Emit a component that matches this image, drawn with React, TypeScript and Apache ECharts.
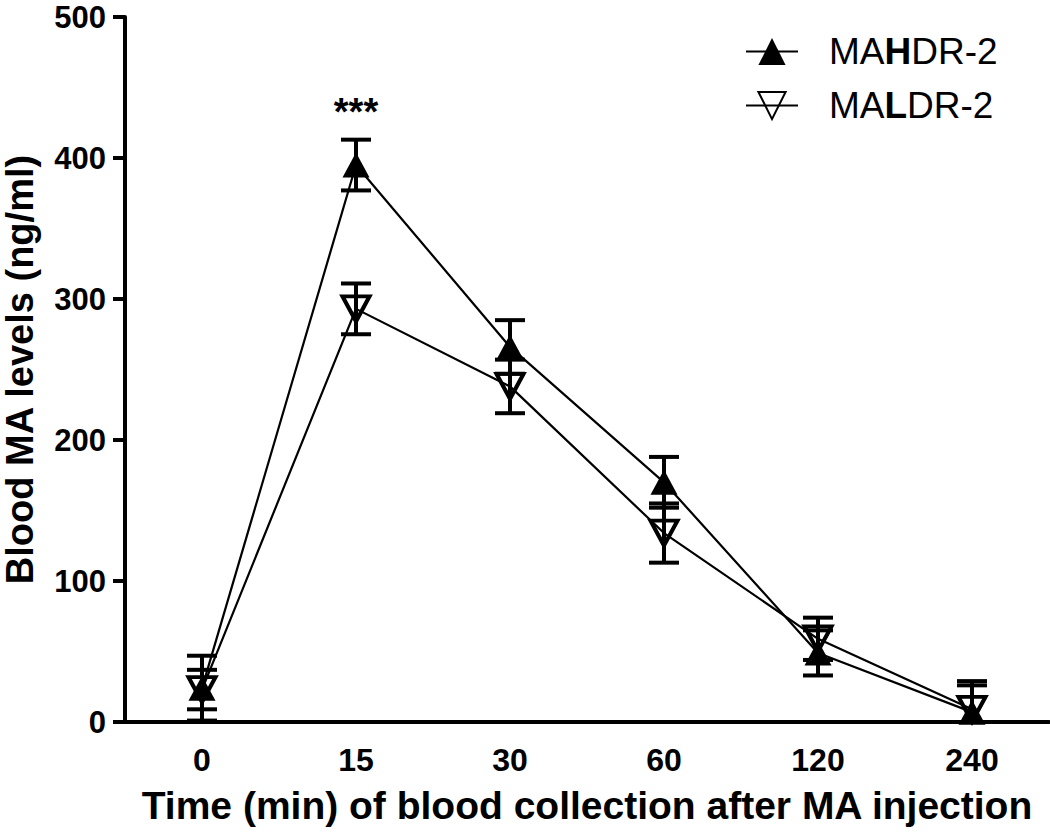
import React, { useEffect, useRef } from "react";
import * as echarts from "echarts";

const categories = ["0", "15", "30", "60", "120", "240"];
const hdrMean = [24, 395, 266, 170, 49, 7];
const hdrSem = [23, 18, 19, 18, 16, 22];
const ldrMean = [23, 293, 238, 134, 59, 9];
const ldrSem = [14, 18, 19, 21, 15, 17];
const yTicks = { min: 0, max: 500, interval: 100 };
const seriesNames = ["MAHDR-2", "MALDR-2"];
const sigLabel = "***";
const sigIndex = 1;

const FONT = "'Liberation Sans', Arial, Helvetica, sans-serif";

function errorRenderer(params: any, api: any) {
  const x = api.value(0);
  const mean = api.value(1);
  const err = api.value(2);
  const top = api.coord([x, mean + err]);
  const bot = api.coord([x, mean - err]);
  const hw = 15;
  const style = { stroke: "#000", lineWidth: 4, fill: "none" };
  return {
    type: "group",
    children: [
      { type: "line", shape: { x1: top[0], y1: top[1], x2: bot[0], y2: bot[1] }, style },
      { type: "line", shape: { x1: top[0] - hw, y1: top[1], x2: top[0] + hw, y2: top[1] }, style },
      { type: "line", shape: { x1: bot[0] - hw, y1: bot[1], x2: bot[0] + hw, y2: bot[1] }, style },
    ],
  };
}

export default function App() {
  const ref = useRef<HTMLDivElement>(null);
  useEffect(() => {
    if (!ref.current) return;
    const chart = echarts.init(ref.current, null, { renderer: "svg" });
    const legendFmt = (name: string) => {
      const letter = name === seriesNames[0] ? "H" : "L";
      const rest = name.slice(3);
      return `{sp| }{a|MA}{b|${letter}}{a|${rest}}`;
    };
    chart.setOption({
      animation: false,
      backgroundColor: "#fff",
      textStyle: { fontFamily: FONT },
      grid: { left: 125, right: 1, top: 17, bottom: 113, outerBoundsMode: "none", containLabel: false },
      legend: {
        data: seriesNames,
        orient: "vertical",
        left: 745,
        top: 33,
        padding: 0,
        itemWidth: 52,
        itemHeight: 34,
        itemGap: 17,
        formatter: legendFmt,
        textStyle: {
          color: "#000",
          fontSize: 37,
          fontFamily: FONT,
          rich: {
            sp: { width: 26, fontSize: 37, lineHeight: 34 },
            a: { fontSize: 37, fontFamily: FONT, color: "#000", lineHeight: 34 },
            b: { fontSize: 37, fontFamily: FONT, color: "#000", fontWeight: "bold", lineHeight: 34 },
          },
        },
      },
      xAxis: {
        type: "category",
        data: categories,
        boundaryGap: true,
        name: "Time (min) of blood collection after MA injection",
        nameLocation: "middle",
        nameGap: 64,
        nameTextStyle: { fontSize: 39, fontWeight: "bold", color: "#000", fontFamily: FONT },
        axisLine: { lineStyle: { color: "#000", width: 4 } },
        axisTick: { alignWithLabel: true, length: 12, lineStyle: { color: "#000", width: 4 } },
        axisLabel: { margin: 22, fontSize: 32, fontWeight: "bold", color: "#000", fontFamily: FONT },
        splitLine: { show: false },
      },
      yAxis: {
        type: "value",
        min: yTicks.min,
        max: yTicks.max,
        interval: yTicks.interval,
        name: "Blood MA levels (ng/ml)",
        nameLocation: "middle",
        nameGap: 86,
        nameTextStyle: { fontSize: 38, fontWeight: "bold", color: "#000", fontFamily: FONT },
        axisLine: { show: true, lineStyle: { color: "#000", width: 4 } },
        axisTick: { show: true, length: 12, lineStyle: { color: "#000", width: 4 } },
        axisLabel: {
          margin: 19,
          fontSize: 31,
          fontWeight: "bold",
          color: "#000",
          fontFamily: FONT,
        },
        splitLine: { show: false },
      },
      series: [
        {
          name: seriesNames[0],
          type: "line",
          data: hdrMean,
          symbol: "triangle",
          symbolSize: [27, 25],
          lineStyle: { color: "#000", width: 2.2 },
          itemStyle: { color: "#000" },
          z: 3,
          markPoint: {
            symbol: "circle",
            symbolSize: 0,
            data: [{ coord: [sigIndex, hdrMean[sigIndex] + hdrSem[sigIndex]] }],
            label: {
              show: true,
              position: "top",
              distance: 9,
              formatter: sigLabel,
              fontSize: 38,
              fontWeight: "bold",
              color: "#000",
              fontFamily: FONT,
            },
          },
        },
        {
          name: seriesNames[1],
          type: "line",
          data: ldrMean,
          symbol: "triangle",
          symbolRotate: 180,
          symbolSize: [27, 25],
          lineStyle: { color: "#000", width: 2.2 },
          itemStyle: { color: "rgba(255,255,255,0)", borderColor: "#000", borderWidth: 4 },
          z: 3,
        },
        {
          name: "hdrErr",
          type: "custom",
          renderItem: errorRenderer,
          data: hdrMean.map((m, i) => [i, m, hdrSem[i]]),
          clip: true,
          z: 4,
        },
        {
          name: "ldrErr",
          type: "custom",
          renderItem: errorRenderer,
          data: ldrMean.map((m, i) => [i, m, ldrSem[i]]),
          clip: true,
          z: 4,
        },
      ],
    });
    return () => chart.dispose();
  }, []);
  return (
    <div
      ref={ref}
      style={{ position: "absolute", left: 0, top: 0, width: 1050, height: 835 }}
    />
  );
}
